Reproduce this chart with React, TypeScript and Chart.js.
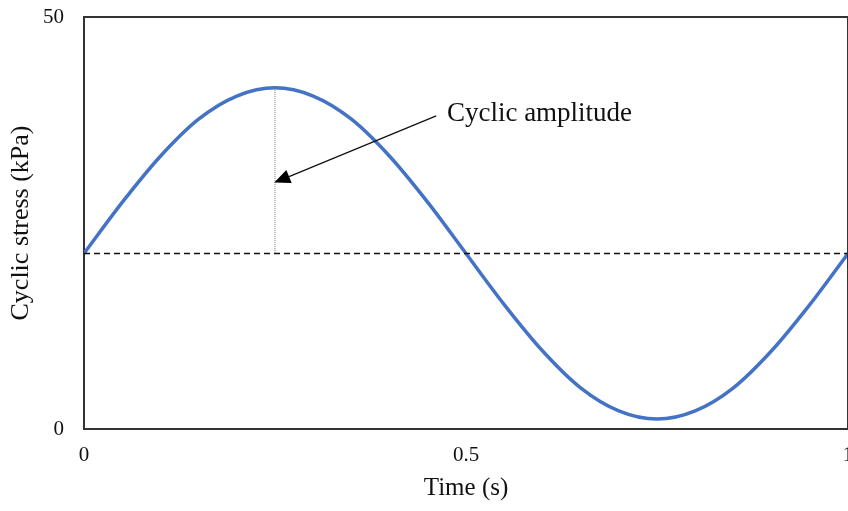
import React, { useEffect, useRef } from "react";
import { Chart, registerables } from "chart.js";

Chart.register(...registerables);

// Time (s) and cyclic stress (kPa)
const timeValues = [0, 0.05, 0.1, 0.15, 0.2, 0.25, 0.3, 0.35, 0.4, 0.45, 0.5, 0.55, 0.6, 0.65, 0.7, 0.75, 0.8, 0.85, 0.9, 0.95, 1.0];
const stressValues = [21.3, 27.5, 33.1, 37.6, 40.4, 41.4, 40.4, 37.6, 33.1, 27.5, 21.3, 15.1, 9.5, 5.0, 2.2, 1.2, 2.2, 5.0, 9.5, 15.1, 21.3];

const xTicks = [0, 0.5, 1];
const yTicks = [0, 50];

// annotation (data units)
const meanStress = 21.3;
const peakTime = 0.25;
const peakStress = 41.4;
const arrowFrom = [0.461, 38.0];
const arrowTo = [0.249, 29.9];
const annotationText = "Cyclic amplitude";
const annotationPos = [0.475, 38.3];

const SERIF = "'Liberation Serif', 'Times New Roman', serif";

const annotationPlugin = {
  id: "amplitudeAnnotation",
  afterDatasetsDraw(chart: any) {
    const { ctx, chartArea, scales } = chart;
    const xs = scales.x;
    const ys = scales.y;
    ctx.save();
    // mean dashed line
    const yMean = ys.getPixelForValue(meanStress);
    ctx.strokeStyle = "#111";
    ctx.lineWidth = 1.5;
    ctx.setLineDash([6, 4]);
    ctx.beginPath();
    ctx.moveTo(chartArea.left, yMean);
    ctx.lineTo(chartArea.right, yMean);
    ctx.stroke();
    // vertical dotted line
    const xPeak = xs.getPixelForValue(peakTime);
    ctx.strokeStyle = "#777";
    ctx.lineWidth = 1;
    ctx.setLineDash([1, 1]);
    ctx.beginPath();
    ctx.moveTo(xPeak, ys.getPixelForValue(peakStress));
    ctx.lineTo(xPeak, yMean);
    ctx.stroke();
    ctx.setLineDash([]);
    // arrow
    const x1 = xs.getPixelForValue(arrowFrom[0]);
    const y1 = ys.getPixelForValue(arrowFrom[1]);
    const x2 = xs.getPixelForValue(arrowTo[0]);
    const y2 = ys.getPixelForValue(arrowTo[1]);
    const ang = Math.atan2(y2 - y1, x2 - x1);
    const headLen = 16;
    const headW = 7;
    const bx = x2 - headLen * Math.cos(ang);
    const by = y2 - headLen * Math.sin(ang);
    ctx.strokeStyle = "#111";
    ctx.lineWidth = 1.3;
    ctx.beginPath();
    ctx.moveTo(x1, y1);
    ctx.lineTo(bx, by);
    ctx.stroke();
    ctx.fillStyle = "#000";
    ctx.beginPath();
    ctx.moveTo(x2, y2);
    ctx.lineTo(bx + headW * Math.sin(ang), by - headW * Math.cos(ang));
    ctx.lineTo(bx - headW * Math.sin(ang), by + headW * Math.cos(ang));
    ctx.closePath();
    ctx.fill();
    // text
    ctx.fillStyle = "#111";
    ctx.font = `27px ${SERIF}`;
    ctx.textAlign = "left";
    ctx.textBaseline = "middle";
    ctx.fillText(annotationText, xs.getPixelForValue(annotationPos[0]), ys.getPixelForValue(annotationPos[1]));
    // top and right border
    ctx.strokeStyle = "#333";
    ctx.lineWidth = 2;
    ctx.beginPath();
    ctx.moveTo(chartArea.left, chartArea.top);
    ctx.lineTo(chartArea.right, chartArea.top);
    ctx.lineTo(chartArea.right, chartArea.bottom);
    ctx.stroke();
    ctx.restore();
  },
};

const whiteBg = {
  id: "whiteBg",
  beforeDraw(chart: any) {
    const { ctx, width, height } = chart;
    ctx.save();
    ctx.fillStyle = "#fff";
    ctx.fillRect(0, 0, width, height);
    ctx.restore();
  },
};

export default function App() {
  const canvasRef = useRef<HTMLCanvasElement | null>(null);

  useEffect(() => {
    if (!canvasRef.current) return;
    const chart = new Chart(canvasRef.current, {
      type: "line",
      data: {
        datasets: [
          {
            data: timeValues.map((t, i) => ({ x: t, y: stressValues[i] })),
            borderColor: "#4472C4",
            borderWidth: 3.5,
            pointRadius: 0,
            cubicInterpolationMode: "monotone",
            fill: false,
          },
        ],
      },
      options: {
        responsive: false,
        animation: false,
        layout: { padding: { top: 17, right: 32, left: 0, bottom: 0 } },
        plugins: { legend: { display: false }, tooltip: { enabled: false } },
        scales: {
          x: {
            type: "linear",
            min: 0,
            max: 1,
            afterFit: (s: any) => {
              s.height = 82;
              s.paddingLeft = 0;
              s.paddingRight = 0;
            },
            afterBuildTicks: (s: any) => {
              s.ticks = xTicks.map((v) => ({ value: v }));
            },
            ticks: {
              padding: 14,
              color: "#111",
              font: { family: SERIF, size: 21 },
              callback: (v: any) => String(v),
              maxRotation: 0,
            },
            grid: { display: false, drawTicks: false },
            border: { color: "#333", width: 2 },
            title: {
              display: true,
              text: "Time (s)",
              color: "#111",
              font: { family: SERIF, size: 25 },
              padding: { top: 4, bottom: 8 },
            },
          },
          y: {
            type: "linear",
            min: 0,
            max: 50,
            afterFit: (s: any) => {
              s.width = 84;
              s.paddingTop = 0;
              s.paddingBottom = 0;
            },
            afterBuildTicks: (s: any) => {
              s.ticks = yTicks.map((v) => ({ value: v }));
            },
            ticks: {
              padding: 20,
              color: "#111",
              font: { family: SERIF, size: 21 },
            },
            grid: { display: false, drawTicks: false },
            border: { color: "#333", width: 2 },
            title: {
              display: true,
              text: "Cyclic stress (kPa)",
              color: "#111",
              font: { family: SERIF, size: 26 },
              padding: { top: 6, bottom: 4 },
            },
          },
        },
      },
      plugins: [whiteBg, annotationPlugin],
    });
    return () => chart.destroy();
  }, []);

  return (
    <div style={{ position: "fixed", left: 0, top: 0, width: 848, height: 511, overflow: "hidden", background: "#fff" }}>
      <canvas ref={canvasRef} width={880} height={511} style={{ display: "block", width: 880, height: 511 }} />
    </div>
  );
}
